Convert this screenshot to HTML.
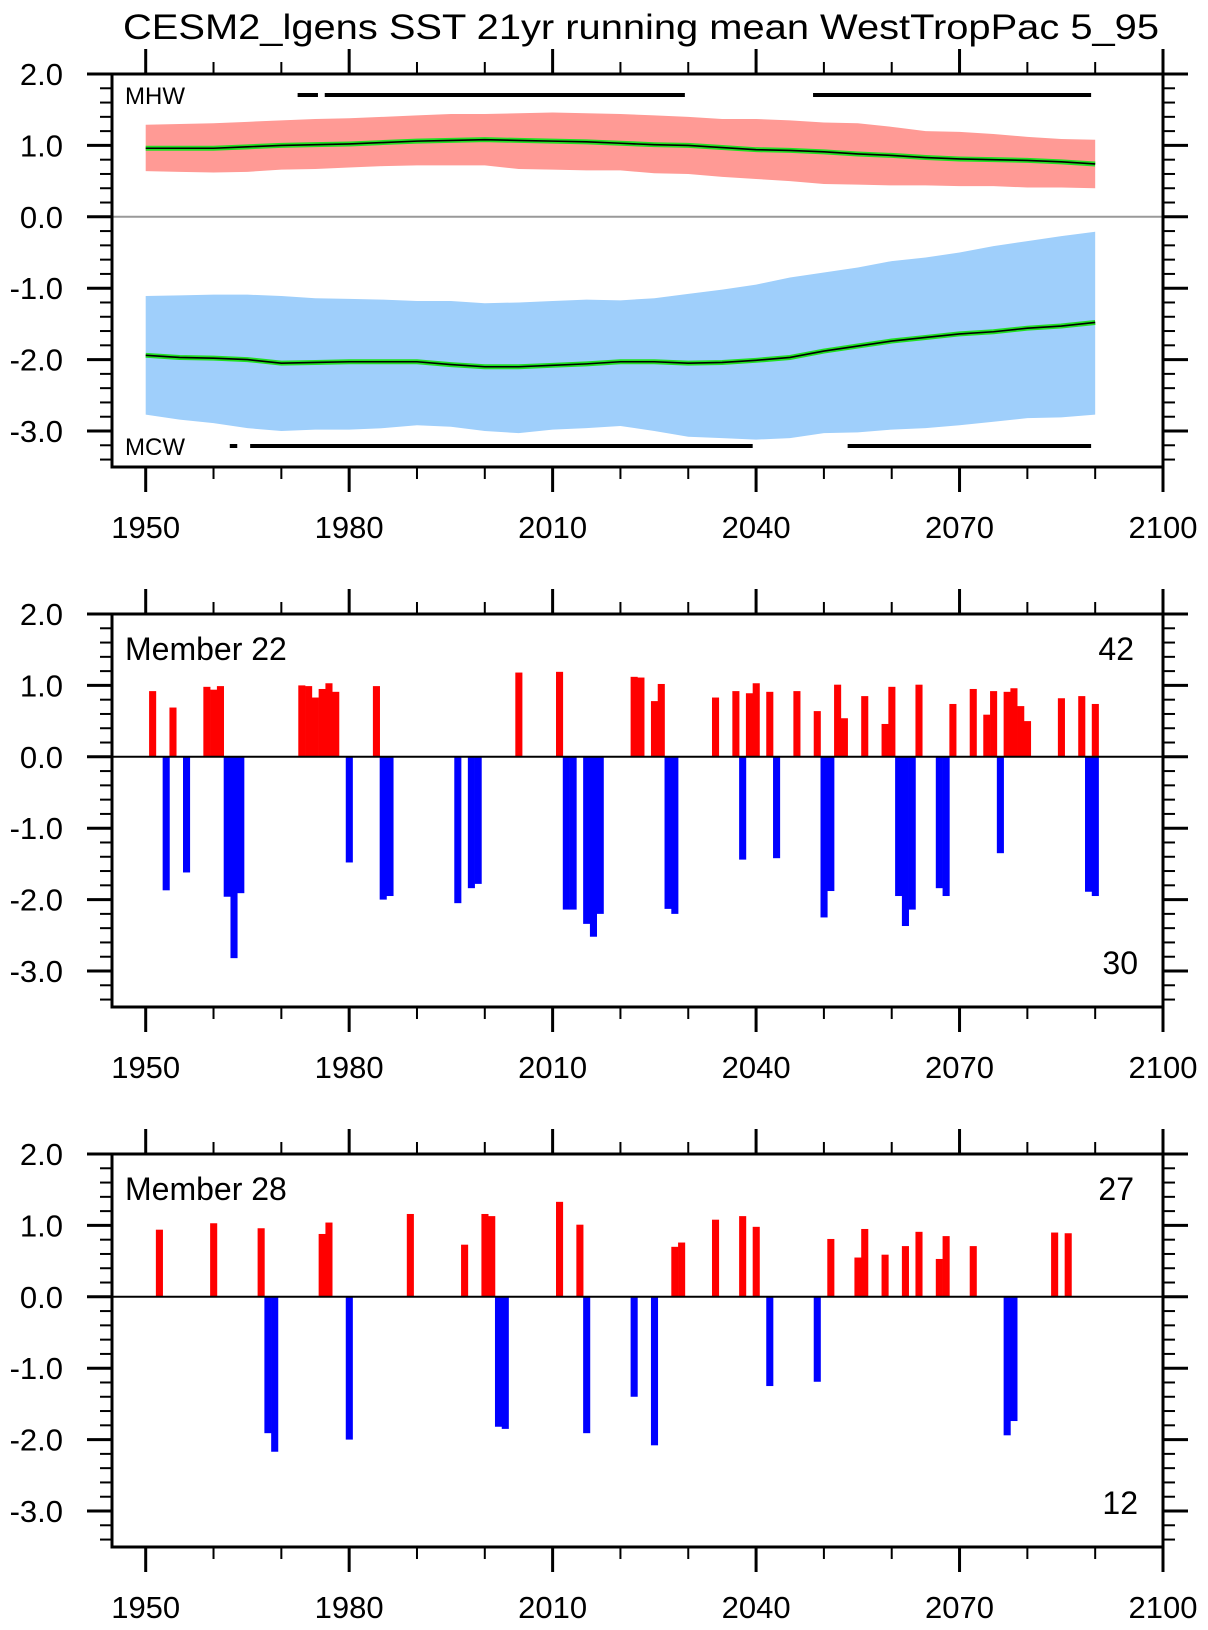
<!DOCTYPE html>
<html><head><meta charset="utf-8">
<style>
html,body{margin:0;padding:0;background:#fff;}
svg{display:block;font-family:"Liberation Sans",Arial,sans-serif;}
</style></head>
<body>
<svg id="chart" width="1208" height="1630" viewBox="0 0 1208 1630" xmlns="http://www.w3.org/2000/svg">
<text x="641" y="39" font-size="35" text-anchor="middle" textLength="1036" lengthAdjust="spacingAndGlyphs">CESM2_lgens SST 21yr running mean WestTropPac 5_95</text>
</svg>
<script>
// ---- panel 1 data (5-yr samples) ----
const bandYears = [1950,1955,1960,1965,1970,1975,1980,1985,1990,1995,2000,2005,2010,2015,2020,2025,2030,2035,2040,2045,2050,2055,2060,2065,2070,2075,2080,2085,2090];
const mhwUpper = [1.29,1.30,1.31,1.33,1.35,1.37,1.38,1.40,1.42,1.44,1.44,1.45,1.46,1.45,1.44,1.42,1.40,1.37,1.37,1.35,1.32,1.31,1.26,1.20,1.19,1.16,1.12,1.09,1.08];
const mhwLower = [0.64,0.63,0.62,0.63,0.66,0.67,0.69,0.71,0.72,0.72,0.72,0.67,0.66,0.65,0.65,0.61,0.60,0.56,0.53,0.50,0.46,0.45,0.44,0.44,0.43,0.43,0.41,0.41,0.40];
const mhwMean = [0.96,0.96,0.96,0.98,1.00,1.01,1.02,1.04,1.06,1.07,1.08,1.07,1.06,1.05,1.03,1.01,1.00,0.97,0.94,0.93,0.91,0.88,0.86,0.83,0.81,0.80,0.79,0.77,0.74];
const mcwUpper = [-1.11,-1.10,-1.09,-1.09,-1.11,-1.14,-1.15,-1.16,-1.18,-1.18,-1.21,-1.20,-1.18,-1.16,-1.17,-1.14,-1.08,-1.02,-0.95,-0.85,-0.78,-0.71,-0.62,-0.57,-0.50,-0.41,-0.34,-0.27,-0.21];
const mcwMean = [-1.94,-1.97,-1.98,-2.00,-2.05,-2.04,-2.03,-2.03,-2.03,-2.07,-2.10,-2.10,-2.08,-2.06,-2.03,-2.03,-2.05,-2.04,-2.01,-1.97,-1.88,-1.81,-1.74,-1.69,-1.64,-1.61,-1.56,-1.53,-1.48];
const mcwLower = [-2.77,-2.84,-2.89,-2.96,-3.00,-2.98,-2.98,-2.96,-2.92,-2.94,-3.00,-3.03,-2.98,-2.96,-2.93,-3.00,-3.08,-3.10,-3.12,-3.10,-3.03,-3.02,-2.98,-2.96,-2.92,-2.87,-2.82,-2.81,-2.77];
const mhwSegStart = [1972.4,1976.4,2048.4];
const mhwSegEnd = [1975.4,2029.5,2089.4];
const mcwSegStart = [1962.4,1965.4,2053.5];
const mcwSegEnd = [1963.5,2039.5,2089.4];
// ---- panel 2 data ----
const m22PosYears = [1951,1954,1959,1960,1961,1973,1974,1975,1976,1977,1978,1984,2005,2011,2022,2023,2025,2026,2034,2037,2039,2040,2042,2046,2049,2052,2053,2056,2059,2060,2064,2069,2072,2074,2075,2077,2078,2079,2080,2085,2088,2090];
const m22PosVals = [0.92,0.69,0.98,0.94,0.99,1.00,0.99,0.83,0.95,1.03,0.91,0.99,1.18,1.19,1.12,1.11,0.78,1.02,0.83,0.92,0.89,1.03,0.91,0.92,0.64,1.01,0.54,0.85,0.46,0.98,1.01,0.74,0.95,0.59,0.92,0.91,0.96,0.71,0.50,0.82,0.85,0.74];
const m22NegYears = [1953,1956,1962,1963,1964,1980,1985,1986,1996,1998,1999,2012,2013,2015,2016,2017,2027,2028,2038,2043,2050,2051,2061,2062,2063,2067,2068,2076,2089,2090];
const m22NegVals = [-1.87,-1.62,-1.96,-2.82,-1.91,-1.48,-2.00,-1.95,-2.05,-1.84,-1.78,-2.14,-2.14,-2.34,-2.52,-2.20,-2.13,-2.20,-1.44,-1.42,-2.25,-1.88,-1.95,-2.37,-2.14,-1.84,-1.95,-1.35,-1.89,-1.95];
// ---- panel 3 data ----
const m28PosYears = [1952,1960,1967,1976,1977,1989,1997,2000,2001,2011,2014,2028,2029,2034,2038,2040,2051,2055,2056,2059,2062,2064,2067,2068,2072,2084,2086];
const m28PosVals = [0.94,1.03,0.96,0.88,1.04,1.16,0.73,1.16,1.13,1.33,1.01,0.70,0.76,1.08,1.13,0.98,0.81,0.55,0.95,0.59,0.71,0.91,0.53,0.85,0.71,0.90,0.89];
const m28NegYears = [1968,1969,1980,2002,2003,2015,2022,2025,2042,2049,2077,2078];
const m28NegVals = [-1.91,-2.17,-2.00,-1.82,-1.85,-1.91,-1.40,-2.08,-1.25,-1.19,-1.94,-1.74];
const xTickLabels = ["1950","1980","2010","2040","2070","2100"];
const yTickLabels = ["2.0","1.0","0.0","-1.0","-2.0","-3.0"];

const NS = "http://www.w3.org/2000/svg";
const svg = document.getElementById('chart');
const X0 = 112, X1 = 1163, PH = 393, UNIT = 71.4;
function xs(yr){ return 145.7 + (yr - 1950) * (X1 - 145.7) / 150; }
function mk(tag, attrs, parent){
  const e = document.createElementNS(NS, tag);
  for (const k in attrs) e.setAttribute(k, attrs[k]);
  (parent || svg).appendChild(e);
  return e;
}

function drawAxes(top, g, zeroColor){
  const ys = v => top + (2 - v) * UNIT;
  const bottom = top + PH;
  // zero line
  const z = mk('line', {x1:X0, x2:X1, y1:ys(0), y2:ys(0), stroke:zeroColor, 'stroke-width':2}, g);
  
  
  // y ticks
  for (let i = 0; i <= 27; i++){
    const v = 2 - i * 0.2;
    const y = ys(v);
    const major = (i % 5 === 0);
    const len = major ? 25 : 12;
    const w = major ? 3 : 2;
    const t1 = mk('line', {x1:X0 - len, x2:X0, y1:y, y2:y, stroke:'#000', 'stroke-width':w}, g);
    
    
    const t2 = mk('line', {x1:X1, x2:X1 + len, y1:y, y2:y, stroke:'#000', 'stroke-width':w}, g);
    
    
  }
  yTickLabels.forEach((lab, i) => {
    const t = mk('text', {x:63, y:ys(2 - i) + 11, 'font-size':31, 'text-anchor':'end'}, g);
    t.textContent = lab;
    
    
  });
  // x ticks
  for (let yr = 1950; yr <= 2100; yr += 5){
    const x = xs(yr);
    const major = (yr % 30 === 0);
    const mid = (yr % 10 === 0);
    const len = major ? 25 : (mid ? 12 : 12);
    if (yr % 10 !== 0 && !major) continue;
    const w = major ? 3 : 2;
    const b = mk('line', {x1:x, x2:x, y1:bottom, y2:bottom + len, stroke:'#000', 'stroke-width':w}, g);
    
    
    const tt = mk('line', {x1:x, x2:x, y1:top - len, y2:top, stroke:'#000', 'stroke-width':w}, g);
    
    
  }
  xTickLabels.forEach((lab, i) => {
    const t = mk('text', {x:xs(1950 + 30 * i), y:bottom + 71, 'font-size':31, 'text-anchor':'middle'}, g);
    t.textContent = lab;
    
    
  });
  const box = mk('rect', {x:X0, y:top, width:X1 - X0, height:PH, fill:'none', stroke:'#000', 'stroke-width':3}, g);
  
  
  return ys;
}

// ---------- Panel 1 ----------
(function(){
  const top = 74;
  const g = mk('g', {});
  
  
  const ys = v => top + (2 - v) * UNIT;
  function band(up, lo, color, name){
    let pts = bandYears.map((y, i) => xs(y) + ',' + ys(up[i]));
    pts = pts.concat(bandYears.map((y, i) => xs(y) + ',' + ys(lo[i])).reverse());
    const p = mk('polygon', {points:pts.join(' '), fill:color}, g);
    
    
  }
  function meanLine(vals, name){
    const pts = bandYears.map((y, i) => xs(y) + ',' + ys(vals[i])).join(' ');
    const a = mk('polyline', {points:pts, fill:'none', stroke:'#22e022', 'stroke-width':5}, g);
    
    
    const b = mk('polyline', {points:pts, fill:'none', stroke:'#000', 'stroke-width':1.6}, g);
    
    
  }
  band(mhwUpper, mhwLower, '#ff9a95', 'mhw-5-95-band');
  band(mcwUpper, mcwLower, '#9fcffb', 'mcw-5-95-band');
  meanLine(mhwMean, 'mhw-mean-line');
  meanLine(mcwMean, 'mcw-mean-line');
  mhwSegStart.forEach((s, i) => {
    const l = mk('line', {x1:xs(s), x2:xs(mhwSegEnd[i]), y1:95, y2:95, stroke:'#000', 'stroke-width':4}, g);
    
    
  });
  mcwSegStart.forEach((s, i) => {
    const l = mk('line', {x1:xs(s), x2:xs(mcwSegEnd[i]), y1:446, y2:446, stroke:'#000', 'stroke-width':4}, g);
    
    
  });
  const t1 = mk('text', {x:125, y:104, 'font-size':24}, g);
  t1.textContent = 'MHW';
  
  
  const t2 = mk('text', {x:125, y:455, 'font-size':24}, g);
  t2.textContent = 'MCW';
  
  
  drawAxes(top, g, '#999');
})();

// ---------- Bar panels ----------
function barPanel(top, title, posY, posV, negY, negV, name){
  const g = mk('g', {});
  
  
  const ys = v => top + (2 - v) * UNIT;
  const bw = (X1 - 145.7) / 150;
  posY.forEach((yr, i) => {
    const r = mk('rect', {x:xs(yr) - bw / 2, y:ys(posV[i]), width:bw + 0.3, height:ys(0) - ys(posV[i]), fill:'#ff0000'}, g);
    
    
  });
  negY.forEach((yr, i) => {
    const r = mk('rect', {x:xs(yr) - bw / 2, y:ys(0), width:bw + 0.3, height:ys(negV[i]) - ys(0), fill:'#0000ff'}, g);
    
    
  });
  const t = mk('text', {x:125, y:top + 46, 'font-size':32}, g);
  t.textContent = title;
  
  
  const c1 = mk('text', {x:1134, y:top + 46, 'font-size':32, 'text-anchor':'end'}, g);
  c1.textContent = String(posY.length);
  
  
  const c2 = mk('text', {x:1138, y:top + 360, 'font-size':32, 'text-anchor':'end'}, g);
  c2.textContent = String(negY.length);
  
  
  drawAxes(top, g, '#000');
}
barPanel(614, 'Member 22', m22PosYears, m22PosVals, m22NegYears, m22NegVals, 'panel-member-22');
barPanel(1154, 'Member 28', m28PosYears, m28PosVals, m28NegYears, m28NegVals, 'panel-member-28');
</script>
</body></html>
